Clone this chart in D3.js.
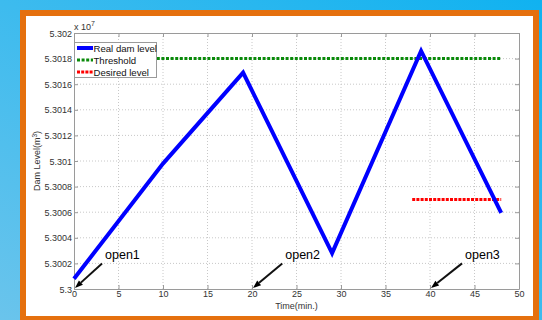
<!DOCTYPE html>
<html>
<head>
<meta charset="utf-8">
<script src="https://cdn.jsdelivr.net/npm/d3@7/dist/d3.min.js"></script>
<style>
  html, body { margin: 0; padding: 0; }
  body { width: 542px; height: 320px; overflow: hidden; }
  svg { display: block; font-family: "Liberation Sans", Arial, sans-serif; }
</style>
</head>
<body>
<svg id="chart" width="542" height="320"></svg>
<script>
// Dam level over time (values in units of 10^7 m^3)
const realTime  = [0, 10, 19, 29, 39, 48];
const realLevel = [5.30008, 5.30098, 5.30169, 5.30028, 5.30186, 5.300595];

const thresholdTime  = [0, 48];
const thresholdLevel = [5.3018, 5.3018];

const desiredTime  = [38, 48];
const desiredLevel = [5.3007, 5.3007];

const xTicks = [0, 5, 10, 15, 20, 25, 30, 35, 40, 45, 50];
const yTicks = [5.3, 5.3002, 5.3004, 5.3006, 5.3008, 5.301, 5.3012, 5.3014, 5.3016, 5.3018, 5.302];

// Valve-opening annotations: label, arrow tail (time, level), arrow head (time, level)
const openLabels = ["open1", "open2", "open3"];
const openTail   = [[3.15, 5.3002], [23.4, 5.3002], [43.6, 5.3002]];
const openHead   = [[0, 5.3], [20, 5.3], [40, 5.3]];

const legendLabels = ["Real dam level", "Threshold", "Desired level"];

(function draw() {
  const svg = d3.select("#chart");

  // Background and frame
  const defs = svg.append("defs");
  const grad = defs.append("linearGradient").attr("id", "bg")
    .attr("x1", "0").attr("y1", "1").attr("x2", "1").attr("y2", "0");
  grad.append("stop").attr("offset", "0").attr("stop-color", "#6ac4ec");
  grad.append("stop").attr("offset", "1").attr("stop-color", "#10b2f0");
  svg.append("rect").attr("width", 542).attr("height", 320).attr("fill", "url(#bg)");
  svg.append("rect").attr("x", 20).attr("y", 10).attr("width", 519).attr("height", 320).attr("fill", "#e5700e");
  svg.append("rect").attr("x", 26).attr("y", 16).attr("width", 507).attr("height", 300).attr("fill", "#ffffff");

  const pLeft = 74, pRight = 519, pTop = 33, pBottom = 289;
  const x = d3.scaleLinear().domain([0, 50]).range([pLeft, pRight]);
  const y = d3.scaleLinear().domain([5.3, 5.302]).range([pBottom, pTop]);

  const textColor = "#333";
  const boxColor = "#9a9a9a";
  const tickFont = 9;

  // Grid
  const grid = svg.append("g");
  grid.selectAll(".gx").data(xTicks.slice(1, -1)).join("line")
    .attr("x1", d => x(d)).attr("x2", d => x(d)).attr("y1", pTop).attr("y2", pBottom)
    .attr("stroke", "#c8c8c8").attr("stroke-width", 1).attr("stroke-dasharray", "1,2");
  grid.selectAll(".gy").data(yTicks.slice(1, -1)).join("line")
    .attr("x1", pLeft).attr("x2", pRight).attr("y1", d => y(d)).attr("y2", d => y(d))
    .attr("stroke", "#c8c8c8").attr("stroke-width", 1).attr("stroke-dasharray", "1,2");

  // Axes
  const fmt = d => String(parseFloat(d.toFixed(4)));
  const xAxis = svg.append("g").attr("transform", `translate(0,${pBottom})`)
    .call(d3.axisBottom(x).tickValues(xTicks).tickSizeInner(-4).tickSizeOuter(0).tickPadding(2));
  const xAxisTop = svg.append("g").attr("transform", `translate(0,${pTop})`)
    .call(d3.axisTop(x).tickValues(xTicks).tickSizeInner(-4).tickSizeOuter(0).tickFormat(""));
  const yAxis = svg.append("g").attr("transform", `translate(${pLeft},0)`)
    .call(d3.axisLeft(y).tickValues(yTicks).tickFormat(fmt).tickSizeInner(-4).tickSizeOuter(0).tickPadding(2));
  const yAxisRight = svg.append("g").attr("transform", `translate(${pRight},0)`)
    .call(d3.axisRight(y).tickValues(yTicks).tickSizeInner(-4).tickSizeOuter(0).tickFormat(""));

  [xAxis, xAxisTop, yAxis, yAxisRight].forEach(g => {
    g.select(".domain").attr("stroke", boxColor);
    g.selectAll(".tick line").attr("stroke", boxColor);
    g.selectAll(".tick text").attr("fill", textColor).attr("font-size", tickFont)
      .attr("font-family", "'Liberation Sans', Arial, sans-serif");
  });
  yAxis.selectAll(".tick text").attr("dy", "0.35em");

  // Exponent marker
  const exp = svg.append("text").attr("x", pLeft).attr("y", 30).attr("fill", textColor)
    .attr("font-size", tickFont);
  exp.append("tspan").text("x 10");
  exp.append("tspan").attr("dy", -4).attr("font-size", 7).text("7");

  // Axis labels
  svg.append("text").attr("x", (pLeft + pRight) / 2).attr("y", 309).attr("text-anchor", "middle")
    .attr("fill", textColor).attr("font-size", tickFont).text("Time(min.)");
  const yl = svg.append("text").attr("transform", `translate(40,${(pTop + pBottom) / 2}) rotate(-90)`)
    .attr("text-anchor", "middle").attr("fill", textColor).attr("font-size", tickFont);
  yl.append("tspan").text("Dam Level(m");
  yl.append("tspan").attr("dy", -3.5).attr("font-size", 6.5).text("3");
  yl.append("tspan").attr("dy", 3.5).text(")");

  // Series
  const line = d3.line().x(d => x(d[0])).y(d => y(d[1]));
  const zip = (a, b) => a.map((v, i) => [v, b[i]]);

  svg.append("path").datum(zip(thresholdTime, thresholdLevel)).attr("d", line)
    .attr("fill", "none").attr("stroke", "#0a8a0a").attr("stroke-width", 3)
    .attr("stroke-dasharray", "3,1.6");
  svg.append("path").datum(zip(desiredTime, desiredLevel)).attr("d", line)
    .attr("fill", "none").attr("stroke", "#ff0000").attr("stroke-width", 3)
    .attr("stroke-dasharray", "3,1.2");
  svg.append("path").datum(zip(realTime, realLevel)).attr("d", line)
    .attr("fill", "none").attr("stroke", "#0000ff").attr("stroke-width", 4)
    .attr("stroke-linejoin", "miter");

  // Annotations: shaft plus a filled arrowhead at the head point
  const ann = svg.append("g");
  openLabels.forEach((lab, i) => {
    const x1 = x(openTail[i][0]), y1 = y(openTail[i][1]);
    const x2 = x(openHead[i][0]) + 1, y2 = y(openHead[i][1]) - 1;
    const ang = Math.atan2(y2 - y1, x2 - x1);
    const len = 8, half = 3;
    const bx = x2 - len * Math.cos(ang), by = y2 - len * Math.sin(ang);
    const px = -Math.sin(ang) * half, py = Math.cos(ang) * half;
    ann.append("path")
      .attr("d", `M${x1},${y1}L${bx},${by}`)
      .attr("fill", "none").attr("stroke", "#111").attr("stroke-width", 2);
    ann.append("path")
      .attr("d", `M${x2},${y2}L${bx + px},${by + py}L${bx - px},${by - py}Z`)
      .attr("fill", "#000");
    ann.append("text").attr("x", x1 + 3).attr("y", y1 - 4)
      .attr("font-size", 12.5).attr("fill", "#000").text(lab);
  });

  // Legend
  const lg = svg.append("g");
  lg.append("rect").attr("x", 74.5).attr("y", 42.5).attr("width", 82).attr("height", 35)
    .attr("fill", "#fff").attr("stroke", boxColor);
  const legendStyles = [
    { color: "#0000ff", width: 4, dash: null },
    { color: "#0a8a0a", width: 3, dash: "3,1.6" },
    { color: "#ff0000", width: 3, dash: "3,1.2" }
  ];
  legendLabels.forEach((lab, i) => {
    const yy = 48 + i * 12;
    lg.append("line").attr("x1", 77).attr("x2", 93).attr("y1", yy).attr("y2", yy)
      .attr("stroke", legendStyles[i].color).attr("stroke-width", legendStyles[i].width)
      .attr("stroke-dasharray", legendStyles[i].dash);
    lg.append("text").attr("x", 93.5).attr("y", yy + 3.5).attr("font-size", 9.6)
      .attr("fill", "#111").text(lab);
  });
})();
</script>
</body>
</html>
